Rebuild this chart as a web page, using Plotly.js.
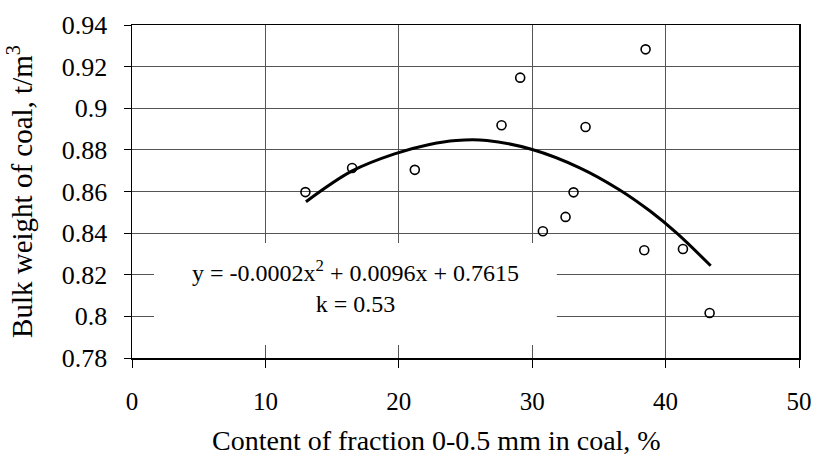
<!DOCTYPE html>
<html>
<head>
<meta charset="utf-8">
<script src="https://cdn.plot.ly/plotly-3.0.1.min.js"></script>
<style>
html,body{margin:0;padding:0;background:#fff;}
#chart{width:813px;height:457px;}
</style>
</head>
<body>
<div id="chart"></div>
<script>
// Measured points
const fractionContent = [13.0, 16.5, 21.2, 27.7, 29.1, 30.8, 32.5, 33.1, 34.0, 38.5, 38.4, 41.3, 43.3];
const bulkWeight = [0.8597, 0.8713, 0.8704, 0.8918, 0.9147, 0.8409, 0.8478, 0.8596, 0.8910, 0.9283, 0.8318, 0.8324, 0.8016];

// Trend line
const trendX = [13.04, 16.47, 19.68, 22.3, 24.3, 26.6, 30.0, 33.56, 36.5, 38.86, 40.84, 43.38];
const trendY = [0.8551, 0.8698, 0.8781, 0.8826, 0.8845, 0.8845, 0.8802, 0.8714, 0.8610, 0.8505, 0.8400, 0.8243];

const xTicks = [0, 10, 20, 30, 40, 50];
const yTicks = [0.78, 0.8, 0.82, 0.84, 0.86, 0.88, 0.9, 0.92, 0.94];

const xTitle = 'Content of fraction 0-0.5 mm in coal, %';
const yTitle = 'Bulk weight of coal, t/m<sup>3</sup>';
const equationText = 'y = -0.0002x<sup>2</sup> + 0.0096x + 0.7615<br>k = 0.53';

const SERIF = 'Liberation Serif';

const traces = [
  {
    x: trendX, y: trendY, type: 'scatter', mode: 'lines',
    line: {color: '#000', width: 3, shape: 'spline', smoothing: 1},
    hoverinfo: 'skip', showlegend: false
  },
  {
    x: fractionContent, y: bulkWeight, type: 'scatter', mode: 'markers',
    marker: {symbol: 'circle-open', size: 9, color: '#000', line: {width: 1.6, color: '#000'}},
    showlegend: false
  }
];

const layout = {
  width: 813, height: 457,
  margin: {l: 132, r: 14, t: 25, b: 99},
  paper_bgcolor: '#fff', plot_bgcolor: '#fff',
  font: {family: SERIF, size: 24, color: '#000'},
  showlegend: false,
  xaxis: {
    range: [0, 50], tickvals: xTicks, ticktext: xTicks.map(String),
    showgrid: true, gridcolor: '#555', gridwidth: 1,
    showline: true, linecolor: '#000', linewidth: 1.5, mirror: true,
    ticks: 'outside', ticklen: 8, tickcolor: '#000', tickwidth: 1,
    ticklabelstandoff: 12,
    zeroline: false,
    tickfont: {family: SERIF, size: 25, color: '#000'}
  },
  yaxis: {
    range: [0.78, 0.94], tickvals: yTicks, ticktext: yTicks.map(v => String(v)),
    showgrid: true, gridcolor: '#555', gridwidth: 1,
    showline: true, linecolor: '#000', linewidth: 1.5, mirror: true,
    ticks: 'outside', ticklen: 7, tickcolor: '#000', tickwidth: 1,
    ticklabelstandoff: 11,
    zeroline: false,
    tickfont: {family: SERIF, size: 26, color: '#000'},
    title: {text: yTitle, font: {family: SERIF, size: 29, color: '#000'}, standoff: 20}
  },
  shapes: [
    {
      type: 'rect', xref: 'paper', yref: 'paper',
      x0: 0.033, x1: 0.637, y0: 0.039, y1: 0.345,
      fillcolor: '#fff', line: {width: 0}, layer: 'above'
    }
  ],
  annotations: [
    {
      xref: 'paper', yref: 'paper', x: 0.335, y: 0.215,
      xanchor: 'center', yanchor: 'middle', align: 'center',
      showarrow: false, text: equationText,
      font: {family: SERIF, size: 24, color: '#000'}
    },
    {
      xref: 'paper', yref: 'paper', x: 0.457, y: -0.247,
      xanchor: 'center', yanchor: 'middle', showarrow: false,
      text: xTitle,
      font: {family: SERIF, size: 28, color: '#000'}
    }
  ]
};

Plotly.newPlot('chart', traces, layout, {displayModeBar: false, staticPlot: true});
</script>
</body>
</html>
